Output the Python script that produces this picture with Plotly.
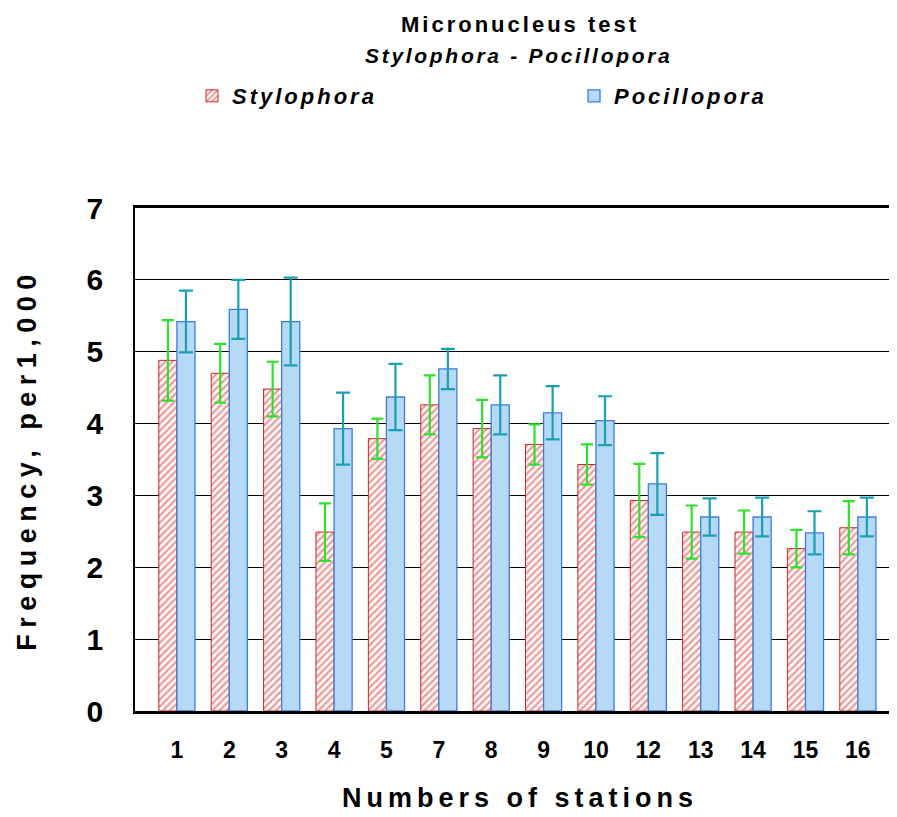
import plotly.graph_objects as go

stations = ["1", "2", "3", "4", "5", "7", "8", "9", "10", "12", "13", "14", "15", "16"]
stylophora = [4.88, 4.70, 4.48, 2.49, 3.79, 4.26, 3.93, 3.71, 3.43, 2.93, 2.49, 2.49, 2.26, 2.55]
stylophora_err = [0.56, 0.41, 0.38, 0.40, 0.28, 0.41, 0.40, 0.28, 0.28, 0.51, 0.37, 0.30, 0.26, 0.37]
pocillopora = [5.42, 5.59, 5.42, 3.93, 4.37, 4.76, 4.26, 4.15, 4.04, 3.16, 2.70, 2.70, 2.48, 2.70]
pocillopora_err = [0.43, 0.41, 0.61, 0.50, 0.46, 0.28, 0.41, 0.37, 0.34, 0.43, 0.26, 0.27, 0.30, 0.27]

FONT = "Liberation Sans, Arial, Helvetica, sans-serif"


def spaced(text, px):
    return '<span style="letter-spacing:%spx">%s</span>' % (px, text)


# screen-pixel helpers (plot area spans x 133..897+, y 208..711 on screen)
def px_x(x):
    return (x - 133) / 770


def px_y(y):
    return (711 - y) / 503


fig = go.Figure()
fig.add_trace(go.Bar(
    x=stations, y=stylophora, name=spaced("Stylophora", 3),
    marker=dict(color="white",
                line=dict(color="#d42020", width=1),
                pattern=dict(shape="/", fgcolor="#d83030", bgcolor="#fff6f6", size=5, solidity=0.4)),
    error_y=dict(type="data", array=stylophora_err, visible=True,
                 color="#2fe02f", thickness=2.2, width=6),
))
fig.add_trace(go.Bar(
    x=stations, y=pocillopora, name=spaced("Pocillopora", 3),
    marker=dict(color="#b6d9f6", line=dict(color="#3b7ddb", width=1.3)),
    error_y=dict(type="data", array=pocillopora_err, visible=True,
                 color="#1b9fb2", thickness=2.2, width=7),
))

fig.update_layout(
    width=897, height=817,
    margin=dict(l=127, r=0, t=200, b=114, autoexpand=False),
    paper_bgcolor="white", plot_bgcolor="white",
    barmode="group", bargap=0.31, bargroupgap=0,
    font=dict(family=FONT, color="black"),
    showlegend=True,
    legend=dict(orientation="h", x=px_x(190), xanchor="left", y=px_y(75), yanchor="top",
                entrywidth=337, entrywidthmode="pixels",
                font=dict(size=22, weight="bold", style="italic", family=FONT),
                bgcolor="rgba(0,0,0,0)"),
    xaxis=dict(type="category", range=[-0.80, 13.90],
               showgrid=False, showline=True, linecolor="black", linewidth=2.5, mirror=True,
               ticks="", tickfont=dict(size=23, weight="bold", family=FONT),
               ticklabelstandoff=17,
               title=dict(text=spaced("Numbers of stations", 5),
                          font=dict(size=27, weight="bold", family=FONT), standoff=26)),
    yaxis=dict(range=[0, 7], tickvals=[0, 1, 2, 3, 4, 5, 6, 7],
               showgrid=True, gridcolor="black", gridwidth=1,
               showline=True, linecolor="black", linewidth=1.5,
               zeroline=False,
               ticks="", tickfont=dict(size=30, weight="bold", family=FONT),
               ticklabelstandoff=24,
               title=dict(text=spaced("Frequency, per1,000", 6.5),
                          font=dict(size=27, weight="bold", family=FONT), standoff=42)),
    annotations=[
        dict(text=spaced("Micronucleus test", 3), xref="paper", yref="paper",
             x=px_x(518), y=px_y(24), xanchor="center", yanchor="middle",
             showarrow=False, font=dict(size=22, weight="bold", family=FONT)),
        dict(text=spaced("Stylophora - Pocillopora", 2.7), xref="paper", yref="paper",
             x=px_x(517), y=px_y(56), xanchor="center", yanchor="middle",
             showarrow=False, font=dict(size=21, weight="bold", style="italic", family=FONT)),
    ],
)

fig.write_html("out.html")
